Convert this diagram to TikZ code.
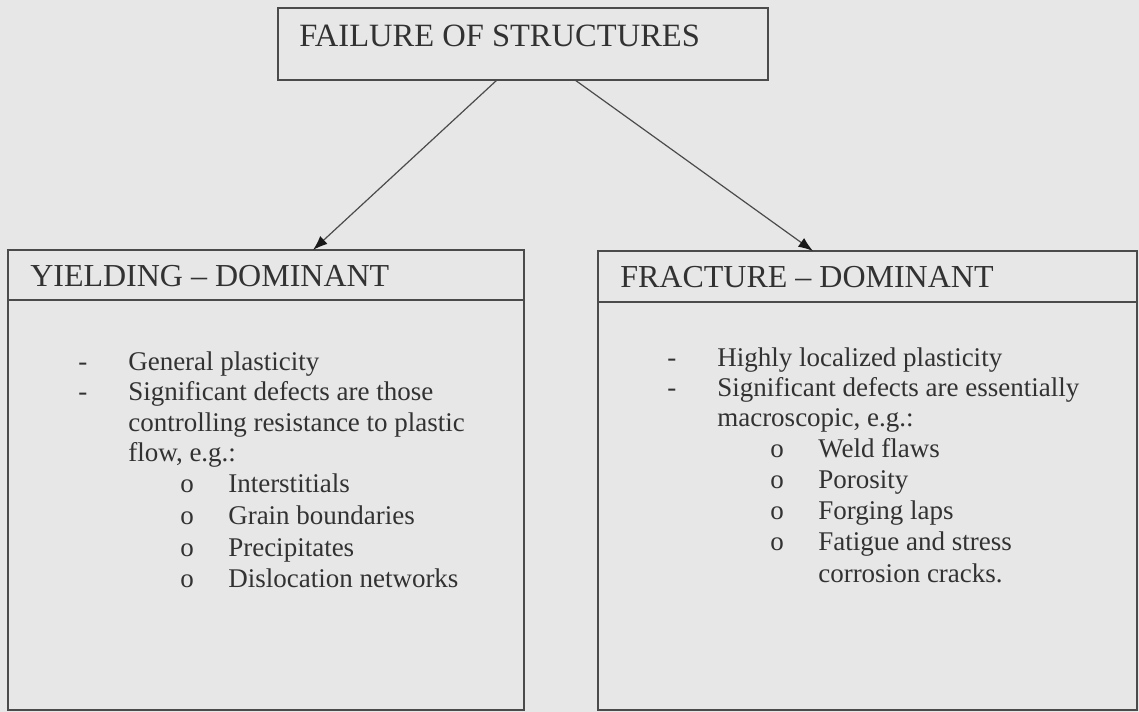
\documentclass[tikz,border=0pt]{standalone}
\usepackage{fontspec}
\setmainfont{Liberation Serif}
\usetikzlibrary{arrows.meta}
\definecolor{bg}{RGB}{231,231,231}
\definecolor{ink}{RGB}{50,50,50}
\definecolor{edge}{RGB}{75,75,75}
\definecolor{tipc}{RGB}{25,25,25}
\begin{document}
\begin{tikzpicture}[x=0.75pt,y=-0.75pt,
  boxnode/.style={draw=edge, line width=1.3pt, inner sep=0pt, outer sep=0pt},
  sepline/.style={draw=edge, line width=1.3pt},
  arr/.style={draw=edge, line width=0.9pt, -{Latex[length=11pt,width=8pt,color=tipc,fill=tipc]}},
  toptxt/.style={anchor=base west, inner sep=0pt, text=ink, font=\fontsize{24.4pt}{28pt}\selectfont},
  headtxt/.style={anchor=base west, inner sep=0pt, text=ink, font=\fontsize{24pt}{28pt}\selectfont},
  bodytxt/.style={anchor=base west, inner sep=0pt, text=ink, font=\fontsize{20.25pt}{24pt}\selectfont}]
\fill[bg] (0,0) rectangle (1139,712);
\useasboundingbox (0,0) rectangle (1139,712);

% boxes
\node[boxnode, minimum width=367.5pt, minimum height=54pt] (top) at (523,44) {};
\node[boxnode, minimum width=387pt, minimum height=345pt] (yb) at (266,480) {};
\node[boxnode, minimum width=404.25pt, minimum height=344.25pt] (fb) at (867.5,480.5) {};

% header separators
\draw[sepline] ([yshift=-37.5pt]yb.north west) -- ([yshift=-37.5pt]yb.north east);
\draw[sepline] ([yshift=-38.25pt]fb.north west) -- ([yshift=-38.25pt]fb.north east);

% arrows
\draw[arr] ([xshift=-19.5pt]top.south) -- ([xshift=35.25pt]yb.north);
\draw[arr] ([xshift=39pt]top.south) -- ([xshift=-40.875pt]fb.north);

% titles
\node[toptxt] (toplabel) at (299,47) {FAILURE OF STRUCTURES};
\node[headtxt] (yhead) at (30,287) {YIELDING -- DOMINANT};
\node[headtxt] (fhead) at (620,288) {FRACTURE -- DOMINANT};

% left body
\node[bodytxt] (yd1) at (78,371) {-};
\node[bodytxt] (yl1) at (128,371) {General plasticity};
\node[bodytxt] (yd2) at (78,401) {-};
\node[bodytxt] (yl2) at (128,401) {Significant defects are those};
\node[bodytxt] (yl3) at (128,432) {controlling resistance to plastic};
\node[bodytxt] (yl4) at (128,462) {flow, e.g.:};
\node[bodytxt] (yo1) at (180,493) {o};
\node[bodytxt] (ys1) at (228,493) {Interstitials};
\node[bodytxt] (yo2) at (180,525) {o};
\node[bodytxt] (ys2) at (228,525) {Grain boundaries};
\node[bodytxt] (yo3) at (180,557) {o};
\node[bodytxt] (ys3) at (228,557) {Precipitates};
\node[bodytxt] (yo4) at (180,588) {o};
\node[bodytxt] (ys4) at (228,588) {Dislocation networks};

% right body
\node[bodytxt] (fd1) at (667,367) {-};
\node[bodytxt] (fl1) at (717,367) {Highly localized plasticity};
\node[bodytxt] (fd2) at (667,397) {-};
\node[bodytxt] (fl2) at (717,397) {Significant defects are essentially};
\node[bodytxt] (fl3) at (717,427) {macroscopic, e.g.:};
\node[bodytxt] (fo1) at (770,458) {o};
\node[bodytxt] (fs1) at (818,458) {Weld flaws};
\node[bodytxt] (fo2) at (770,489) {o};
\node[bodytxt] (fs2) at (818,489) {Porosity};
\node[bodytxt] (fo3) at (770,520) {o};
\node[bodytxt] (fs3) at (818,520) {Forging laps};
\node[bodytxt] (fo4) at (770,551) {o};
\node[bodytxt] (fs4) at (818,551) {Fatigue and stress};
\node[bodytxt] (fs5) at (818,582) {corrosion cracks.};
\end{tikzpicture}
\end{document}
